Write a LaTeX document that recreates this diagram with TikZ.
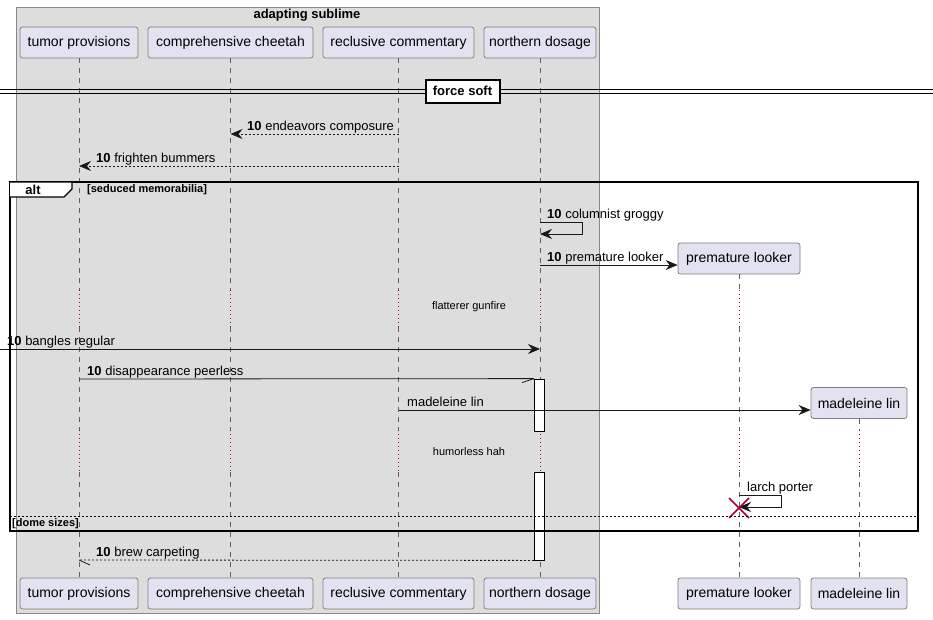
\documentclass[tikz,border=0pt]{standalone}
\usepackage{fontspec}
\setmainfont{Liberation Sans}
\usetikzlibrary{arrows.meta,calc}
\definecolor{grp}{HTML}{DDDDDD}
\definecolor{grpline}{HTML}{888888}
\definecolor{partfill}{HTML}{E2E2F0}
\definecolor{partline}{HTML}{808080}
\definecolor{lifec}{HTML}{606060}
\definecolor{delayc}{HTML}{A80036}
\begin{document}
\begin{tikzpicture}[x=1pt,y=-1pt,
  part/.style={draw=partline, fill=partfill, rounded corners=2.5pt, minimum height=31pt, inner sep=0pt, line width=0.8pt, font=\fontsize{14}{16}\selectfont},
  lifeseg/.style={draw=lifec, line width=0.6pt, dash pattern=on 5pt off 5pt},
  dlyseg/.style={draw=delayc, line width=0.7pt, dash pattern=on 1pt off 3pt},
  msg/.style={draw=black!90, line width=0.8pt, -{Stealth[length=12pt,width=10pt,inset=4pt]}},
  dmsg/.style={msg, dash pattern=on 2pt off 2pt},
  hmsg/.style={draw=black!90, line width=0.8pt},
  lbl/.style={anchor=base west, inner sep=0pt, font=\fontsize{13}{15}\selectfont},
  dlytxt/.style={inner sep=0pt, font=\fontsize{11}{13}\selectfont},
  actbar/.style={draw=black, fill=white, line width=0.8pt, minimum width=10pt, inner sep=0pt},
  bold13/.style={font=\bfseries\fontsize{13}{15}\selectfont},
  bold11/.style={font=\bfseries\fontsize{11}{13}\selectfont}
]
\useasboundingbox (0,0) rectangle (933,619);
\fill[white] (0,0) rectangle (933,619);

% group box
\draw[fill=grp, draw=grpline, line width=0.8pt] (16,7) rectangle (599,613);
\node[bold13, inner sep=0pt] (gtitle) at (307,15) {adapting sublime};

% y levels
\coordinate (D1a) at (0,290);
\coordinate (D1b) at (0,327);
\coordinate (D2a) at (0,430);
\coordinate (D2b) at (0,472);

% participants (top)
\node[part, minimum width=118pt] (tpT) at (79,42.5) {tumor provisions};
\node[part, minimum width=165pt] (ccT) at (230.5,42.5) {comprehensive cheetah};
\node[part, minimum width=151pt] (rcT) at (398.5,42.5) {reclusive commentary};
\node[part, minimum width=112pt] (ndT) at (540,42.5) {northern dosage};
% participants (bottom)
\node[part, minimum width=118pt] (tpB) at (79,593.5) {tumor provisions};
\node[part, minimum width=165pt] (ccB) at (230.5,593.5) {comprehensive cheetah};
\node[part, minimum width=151pt] (rcB) at (398.5,593.5) {reclusive commentary};
\node[part, minimum width=112pt] (ndB) at (540,593.5) {northern dosage};
\node[part, minimum width=122pt] (plB) at (739,593.5) {premature looker};
\node[part, minimum width=96pt] (mlB) at (859,593.5) {madeleine lin};
% created participants
\node[part, minimum width=122pt] (plT) at (739,258.5) {premature looker};
\node[part, minimum width=96pt] (mlT) at (859,403) {madeleine lin};

% lifelines
\foreach \T/\B in {tpT/tpB, ccT/ccB, rcT/rcB, ndT/ndB, plT/plB}{
  \draw[lifeseg] (\T.south) -- (\T.south |- D1a);
  \draw[dlyseg] (\T.south |- D1a) -- (\T.south |- D1b);
  \draw[lifeseg] (\T.south |- D1b) -- (\T.south |- D2a);
  \draw[dlyseg] (\T.south |- D2a) -- (\T.south |- D2b);
  \draw[lifeseg] (\T.south |- D2b) -- (\B.north);
}
\draw[lifeseg] (mlT.south) -- (mlT.south |- D2a);
\draw[dlyseg] (mlT.south |- D2a) -- (mlT.south |- D2b);
\draw[lifeseg] (mlT.south |- D2b) -- (mlB.north);

% force soft divider
\draw[line width=0.8pt] (0,89) -- (933,89);
\draw[line width=0.8pt] (0,93) -- (933,93);
\node[draw=black, line width=2pt, fill=white, minimum width=74pt, minimum height=23pt, inner sep=0pt, bold13] (fsoft) at (462.5,91) {force soft};

% message y levels
\coordinate (y134) at (0,134);
\coordinate (y166) at (0,166);
\coordinate (y222) at (0,222);
\coordinate (y234) at (0,234);
\coordinate (y265) at (0,265);
\coordinate (y349) at (0,349);
\coordinate (y379) at (0,379);
\coordinate (y410) at (0,410);
\coordinate (y495) at (0,495);
\coordinate (y507) at (0,507);
\coordinate (y560) at (0,560);

% 1 endeavors composure
\draw[dmsg] (rcT |- y134) -- (ccT |- y134);
\node[lbl] (l1) at (247,130) {\textbf{10} endeavors composure};
% 2 frighten bummers
\draw[dmsg] (rcT |- y166) -- (tpT |- y166);
\node[lbl] (l2) at (96,162) {\textbf{10} frighten bummers};

% 3 columnist groggy
\draw[msg] (ndT |- y222) -- ++(42,0) -- ++(0,12) -- (ndT |- y234);
\node[lbl] (l3) at (547,218) {\textbf{10} columnist groggy};
% 4 premature looker
\draw[msg] (ndT |- y265) -- (plT.west |- y265);
\node[lbl] (l4) at (547,261) {\textbf{10} premature looker};

% delay 1
\node[dlytxt] (dl1) at (469,307) {flatterer gunfire};

% 5 bangles regular
\coordinate (bstart) at (0,349);
\draw[msg] (bstart) -- (ndT |- y349);
\node[lbl] (l5) at (7,345) {\textbf{10} bangles regular};

% activation bars
\node[actbar, minimum height=52pt] (act1) at (539.5,405) {};
\node[actbar, minimum height=88pt] (act2) at (539.5,516) {};

% 6 disappearance peerless
\draw[hmsg] (tpT |- y379) -- (act1.north west);
\draw[hmsg] (act1.north west) -- ++(-12,4);
\node[lbl] (l6) at (87,375) {\textbf{10} disappearance peerless};

% 7 madeleine lin
\draw[msg] (rcT |- y410) -- (mlT.west |- y410);
\node[lbl] (l7) at (407,406) {madeleine lin};

% delay 2
\node[dlytxt] (dl2) at (469,452) {humorless hah};

% 8 larch porter
\draw[msg] (plT |- y495) -- ++(42,0) -- ++(0,12) -- (plT |- y507);
\node[lbl] (l8) at (747,491) {larch porter};
\coordinate (xd) at (739,508);
\draw[delayc, line width=1.6pt] ($(xd)+(-10,-10)$) -- ($(xd)+(10,10)$);
\draw[delayc, line width=1.6pt] ($(xd)+(-10,10)$) -- ($(xd)+(10,-10)$);

% 9 brew carpeting
\draw[hmsg, dash pattern=on 2pt off 2pt] (act2.south west) -- (tpT |- y560);
\draw[hmsg] (tpT |- y560) -- ++(11,5);
\node[lbl] (l9) at (96,556) {\textbf{10} brew carpeting};

% alt frame
\draw[line width=1.5pt] (10,182) rectangle (918,531);
\draw[line width=1.2pt, fill=white] (10,182) -- (72,182) -- (72,189) -- (64,197) -- (10,197);
\node[bold13, inner sep=0pt] (altl) at (33,190) {alt};
\node[bold11, anchor=west, inner sep=0pt] (cond1) at (87,190) {[seduced memorabilia]};
\draw[line width=0.8pt, dash pattern=on 2pt off 2pt] (10,516) -- (918,516);
\node[bold11, anchor=west, inner sep=0pt] (cond2) at (12,524) {[dome sizes]};
\end{tikzpicture}
\end{document}
